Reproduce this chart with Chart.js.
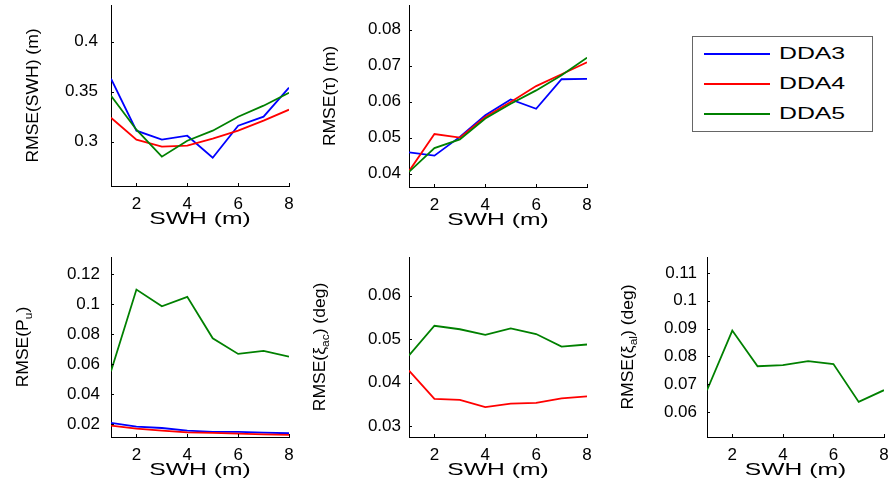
<!DOCTYPE html>
<html>
<head>
<meta charset="utf-8">
<script src="https://cdn.jsdelivr.net/npm/chart.js@4/dist/chart.umd.min.js"></script>
<style>
  body { margin: 0; background: #fff; width: 892px; height: 486px; position: relative; overflow: hidden;
         font-family: "Liberation Sans", Arial, sans-serif; }
  canvas { position: absolute; }
  #legend { position: absolute; left: 692px; top: 36px; width: 179px; height: 94px; border: 1px solid #666; background: #fff; }
  #legend .row { position: absolute; left: 0; height: 20px; }
  #legend .swatch { position: absolute; left: 11px; top: 9px; width: 66px; height: 2px; }
  #legend .label { position: absolute; left: 86px; top: 0; font-size: 16px; line-height: 20px; color: #000;
                   transform: scaleX(1.55); transform-origin: left center; white-space: nowrap; }
</style>
</head>
<body>
<div id="legend"></div>
<script>
// x values and series
const swh = [1, 2, 3, 4, 5, 6, 7, 8];
const xTicks = [2, 4, 6, 8];
const seriesNames = ['DDA3', 'DDA4', 'DDA5'];
const seriesColors = ['#0000ff', '#ff0000', '#008000'];

// RMSE(SWH) (m)
const swhDda3 = [0.363, 0.311, 0.302, 0.306, 0.284, 0.316, 0.325, 0.354];
const swhDda4 = [0.324, 0.302, 0.295, 0.296, 0.303, 0.311, 0.321, 0.332];
const swhDda5 = [0.346, 0.312, 0.285, 0.301, 0.311, 0.325, 0.336, 0.349];
const swhTicks = [0.3, 0.35, 0.4];

// RMSE(tau) (m)
const tauDda3 = [0.0459, 0.0450, 0.0502, 0.0562, 0.0606, 0.0580, 0.0662, 0.0663];
const tauDda4 = [0.0407, 0.0510, 0.0500, 0.0557, 0.0599, 0.0643, 0.0676, 0.0709];
const tauDda5 = [0.0405, 0.0471, 0.0495, 0.0553, 0.0594, 0.0631, 0.0673, 0.0722];
const tauTicks = [0.04, 0.05, 0.06, 0.07, 0.08];

// RMSE(Pu)
const puDda3 = [0.0207, 0.0182, 0.0173, 0.0156, 0.0147, 0.0147, 0.0142, 0.0138];
const puDda4 = [0.0189, 0.0169, 0.0156, 0.0144, 0.0140, 0.0136, 0.0131, 0.0127];
const puDda5 = [0.0551, 0.1096, 0.0984, 0.1047, 0.0771, 0.0667, 0.0687, 0.0649];
const puTicks = [0.02, 0.04, 0.06, 0.08, 0.1, 0.12];

// RMSE(xi_ac) (deg)
const xiAcDda4 = [0.0428, 0.0363, 0.0361, 0.0344, 0.0352, 0.0354, 0.0364, 0.0369];
const xiAcDda5 = [0.0463, 0.0531, 0.0523, 0.0510, 0.0525, 0.0512, 0.0483, 0.0488];
const xiAcTicks = [0.03, 0.04, 0.05, 0.06];

// RMSE(xi_al) (deg)
const xiAlDda5 = [0.0679, 0.0893, 0.0765, 0.0769, 0.0783, 0.0773, 0.0637, 0.0679];
const xiAlTicks = [0.06, 0.07, 0.08, 0.09, 0.1, 0.11];

const xTitle = 'SWH (m)';
const fontFamily = '"Liberation Sans", Arial, sans-serif';

// panel layout: plot box in page pixels [left, top, right, bottom]
const panels = [
  { series: [swhDda3, swhDda4, swhDda5], yRange: [0.2557, 0.4367], yTicks: swhTicks,
    yTitle: 'RMSE(SWH) (m)', box: [111, 5, 289, 186], titleX: 34, tickGap: 13 },
  { series: [tauDda3, tauDda4, tauDda5], yRange: [0.0363, 0.0868], yTicks: tauTicks,
    yTitle: 'RMSE(\u03c4) (m)', box: [409, 5, 587, 187], titleX: 331, tickGap: 8 },
  { series: [puDda3, puDda4, puDda5], yRange: [0.0113, 0.1313], yTicks: puTicks,
    yTitle: 'RMSE(P_{u})', box: [111, 257, 289, 437], titleX: 24, tickGap: 11 },
  { series: [null, xiAcDda4, xiAcDda5], yRange: [0.02755, 0.0689], yTicks: xiAcTicks,
    yTitle: 'RMSE(\u03be_{ac}) (deg)', box: [409, 257, 587, 437], titleX: 321, tickGap: 8 },
  { series: [null, null, xiAlDda5], yRange: [0.0511, 0.1157], yTicks: xiAlTicks,
    yTitle: 'RMSE(\u03be_{al}) (deg)', box: [707, 257, 884, 437], titleX: 629, tickGap: 10 }
];

const Y_W = 100, PAD_T = 6, PAD_R = 8, X_H = 46;

// split "abc_{sub}def" into parts
function richParts(text) {
  return text.split(/(_\{[^}]*\})/).filter(Boolean)
    .map(s => s.startsWith('_{') ? { t: s.slice(2, -1), sub: true } : { t: s, sub: false });
}

// inward tick marks plus axis titles drawn MATLAB style
const axisExtras = {
  id: 'axisExtras',
  afterDraw(chart, args, opts) {
    const { ctx, chartArea: a, scales: { x, y } } = chart;
    ctx.save();
    ctx.strokeStyle = '#000';
    ctx.lineWidth = 1;
    ctx.beginPath();
    xTicks.forEach(v => {
      const px = Math.round(x.getPixelForValue(v)) + 0.5;
      ctx.moveTo(px, a.bottom); ctx.lineTo(px, a.bottom - 3);
    });
    opts.yTicks.forEach(v => {
      const py = Math.round(y.getPixelForValue(v)) + 0.5;
      ctx.moveTo(a.left, py); ctx.lineTo(a.left + 3, py);
    });
    ctx.stroke();
    ctx.fillStyle = '#000';

    // x title, stretched like the original
    ctx.save();
    ctx.translate((a.left + a.right) / 2, a.bottom + 38);
    ctx.scale(1.45, 1);
    ctx.font = '17px ' + fontFamily;
    ctx.textAlign = 'center';
    ctx.textBaseline = 'alphabetic';
    ctx.fillText(xTitle, 0, 0);
    ctx.restore();

    // y title, rotated, with subscripts
    ctx.save();
    ctx.translate(opts.titleX, (a.top + a.bottom) / 2);
    ctx.scale(0.9, 1);
    ctx.rotate(-Math.PI / 2);
    ctx.textBaseline = 'middle';
    ctx.textAlign = 'left';
    const parts = richParts(opts.title);
    const size = 17.5, subSize = 12;
    let total = 0;
    parts.forEach(p => {
      ctx.font = (p.sub ? subSize : size) + 'px ' + fontFamily;
      p.w = ctx.measureText(p.t).width;
      total += p.w;
    });
    let cx = -total / 2;
    parts.forEach(p => {
      ctx.font = (p.sub ? subSize : size) + 'px ' + fontFamily;
      ctx.fillText(p.t, cx, p.sub ? 6 : 0);
      cx += p.w;
    });
    ctx.restore();
    ctx.restore();
  }
};

panels.forEach(p => {
  const [l, t, r, b] = p.box;
  const canvas = document.createElement('canvas');
  const cl = l - Y_W, ct = t - PAD_T;
  const w = Y_W + (r - l) + PAD_R, h = PAD_T + (b - t) + X_H;
  canvas.width = w; canvas.height = h;
  canvas.style.left = cl + 'px'; canvas.style.top = ct + 'px';
  canvas.style.width = w + 'px'; canvas.style.height = h + 'px';
  document.body.appendChild(canvas);

  const datasets = [];
  p.series.forEach((vals, i) => {
    if (!vals) return;
    datasets.push({
      label: seriesNames[i],
      data: vals.map((v, k) => ({ x: swh[k], y: v })),
      borderColor: seriesColors[i],
      borderWidth: 1.8,
      pointRadius: 0,
      tension: 0,
      fill: false,
      order: 3 - i
    });
  });

  new Chart(canvas.getContext('2d'), {
    type: 'line',
    data: { datasets },
    plugins: [axisExtras],
    options: {
      responsive: false,
      animation: false,
      devicePixelRatio: 1,
      layout: { padding: { top: PAD_T, right: PAD_R, left: 0, bottom: 0 } },
      plugins: {
        legend: { display: false },
        tooltip: { enabled: false },
        axisExtras: { yTicks: p.yTicks, title: p.yTitle, titleX: p.titleX - cl }
      },
      scales: {
        x: {
          type: 'linear', min: 1, max: 8,
          grid: { display: false, drawTicks: false },
          border: { display: true, color: '#000', width: 1 },
          afterBuildTicks: s => { s.ticks = xTicks.map(v => ({ value: v })); },
          afterFit: s => { s.height = X_H; s.paddingLeft = 0; s.paddingRight = 0; },
          ticks: { autoSkip: false, maxRotation: 0, padding: 8, color: '#000',
                   font: { family: fontFamily, size: 17 } }
        },
        y: {
          type: 'linear', min: p.yRange[0], max: p.yRange[1],
          grid: { display: false, drawTicks: false },
          border: { display: true, color: '#000', width: 1 },
          afterBuildTicks: s => { s.ticks = p.yTicks.map(v => ({ value: v })); },
          afterFit: s => { s.width = Y_W; s.paddingTop = 0; s.paddingBottom = 0; },
          ticks: { autoSkip: false, padding: p.tickGap, color: '#000',
                   font: { family: fontFamily, size: 17 },
                   callback: v => String(v) }
        }
      }
    }
  });
});

// legend box
const legend = document.getElementById('legend');
seriesNames.forEach((name, i) => {
  const row = document.createElement('div');
  row.className = 'row';
  row.style.top = (7 + i * 30) + 'px';
  row.style.width = '100%';
  row.innerHTML = '<div class="swatch" style="background:' + seriesColors[i] + '"></div>' +
                  '<div class="label">' + name + '</div>';
  legend.appendChild(row);
});
</script>
</body>
</html>
